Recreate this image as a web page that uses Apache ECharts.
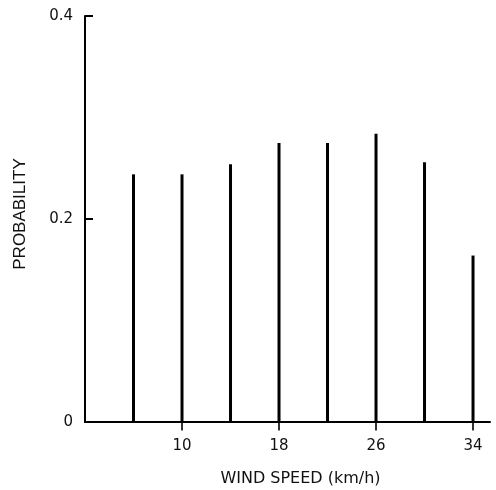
<!DOCTYPE html>
<html><head><meta charset="utf-8">
<script src="https://cdn.jsdelivr.net/npm/echarts@6/dist/echarts.min.js"></script>
<style>html,body{margin:0;padding:0;background:#fff}#c{width:496px;height:490px}</style>
</head><body><div id="c"></div>
<script>
var windSpeeds = [6, 10, 14, 18, 22, 26, 30, 34];
var probabilities = [0.244, 0.244, 0.254, 0.275, 0.275, 0.284, 0.256, 0.164];
var xTickLabels = [10, 18, 26, 34];
var yTickLabels = [0, 0.2, 0.4];

var chart = echarts.init(document.getElementById('c'));
var font = 'DejaVu Sans, Liberation Sans, sans-serif';
chart.setOption({
  animation: false,
  backgroundColor: '#fff',
  grid: {left: 85, right: 6, top: 16, bottom: 68, outerBoundsMode: 'none', containLabel: false},
  xAxis: {
    type: 'value', min: 2, max: 35.4,
    name: 'WIND SPEED (km/h)', nameLocation: 'middle', nameGap: 49,
    nameTextStyle: {color: '#111', fontSize: 16, fontFamily: font, padding: [0, 0, 0, 26]},
    axisLine: {show: true, onZero: false, lineStyle: {color: '#000', width: 2}},
    axisTick: {show: false},
    axisLabel: {color: '#111', fontSize: 15, fontFamily: font, margin: 17, customValues: xTickLabels},
    splitLine: {show: false}
  },
  yAxis: {
    type: 'value', min: 0, max: 0.4, interval: 0.2,
    name: 'PROBABILITY', nameLocation: 'middle', nameGap: 56,
    nameTextStyle: {color: '#111', fontSize: 17, fontFamily: 'Liberation Sans, Arial, sans-serif', padding: [0, 0, 0, 10]},
    axisLine: {show: true, lineStyle: {color: '#000', width: 2}},
    axisTick: {show: true, inside: true, length: 8, lineStyle: {color: '#000', width: 2}},
    axisLabel: {color: '#111', fontSize: 15, fontFamily: font, margin: 12},
    splitLine: {show: false}
  },
  series: [{
    type: 'bar', barWidth: 3,
    itemStyle: {color: '#000'},
    data: windSpeeds.map(function (w, i) { return [w, probabilities[i]]; })
  }, {
    type: 'scatter', clip: false, silent: true, z: 5,
    symbol: 'rect', symbolSize: [2, 9], symbolOffset: [0, 4],
    itemStyle: {color: '#000'},
    data: xTickLabels.map(function (v) { return [v, 0]; })
  }]
});
</script></body></html>
